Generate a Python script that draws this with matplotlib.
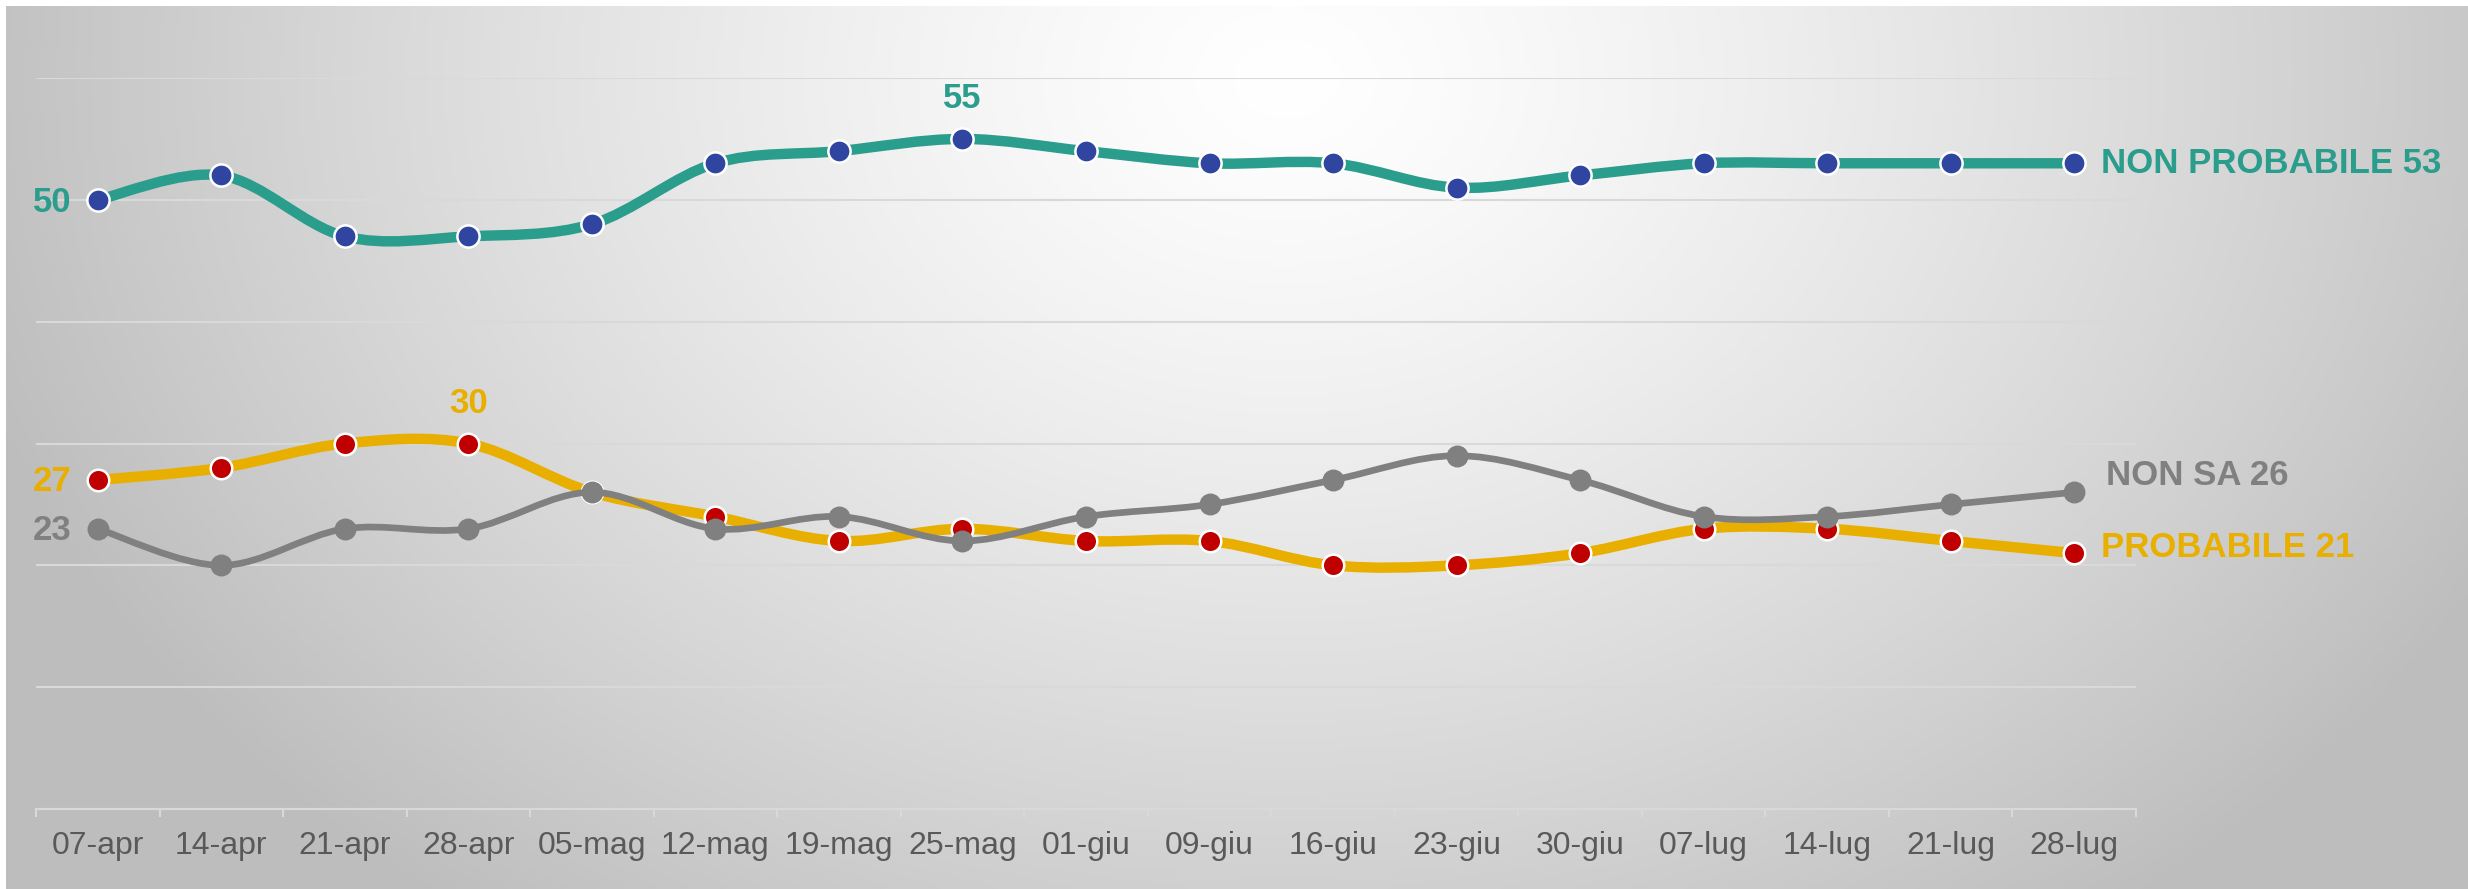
import numpy as np
import matplotlib
matplotlib.use("Agg")
import matplotlib.pyplot as plt
from matplotlib.path import Path
from matplotlib.patches import PathPatch

plt.rcParams['font.family'] = ['Liberation Sans', 'DejaVu Sans']

# --- data ---
weeks = ["07-apr", "14-apr", "21-apr", "28-apr", "05-mag", "12-mag", "19-mag",
         "25-mag", "01-giu", "09-giu", "16-giu", "23-giu", "30-giu", "07-lug",
         "14-lug", "21-lug", "28-lug"]
non_probabile = [50, 52, 47, 47, 48, 53, 54, 55, 54, 53, 53, 51, 52, 53, 53, 53, 53]
probabile = [27, 28, 30, 30, 26, 24, 22, 23, 22, 22, 20, 20, 21, 23, 23, 22, 21]
non_sa = [23, 20, 23, 23, 26, 23, 24, 22, 24, 25, 27, 29, 27, 24, 24, 25, 26]

GREEN = "#2A9D8C"
BLUE = "#2F45A0"
YELLOW = "#E8AF00"
RED = "#C00000"
GRAY = "#808080"
GRID = "#D9D9D9"

W, H = 2468, 889


def smooth_path(xs, ys):
    """Bezier path like Excel's smoothed line (Catmull-Rom style control points)."""
    pts = np.column_stack([xs, ys]).astype(float)
    n = len(pts)
    verts = [pts[0]]
    codes = [Path.MOVETO]
    for i in range(n - 1):
        p0 = pts[i - 1] if i > 0 else pts[i]
        p1 = pts[i]
        p2 = pts[i + 1]
        p3 = pts[i + 2] if i + 2 < n else pts[i + 1]
        c1 = p1 + (p2 - p0) / 6.0
        c2 = p2 - (p3 - p1) / 6.0
        verts += [c1, c2, p2]
        codes += [Path.CURVE4] * 3
    return Path(verts, codes)


fig = plt.figure(figsize=(W / 100, H / 100), dpi=100)
fig.patch.set_facecolor("white")

# background radial gradient (white strip of 6px on left/top like the reference)
bg = fig.add_axes([6 / W, 0, 1 - 6 / W, 1 - 6 / H])
gx, gy = np.meshgrid(np.linspace(0, 1, 600), np.linspace(0, 1, 250))
d = np.sqrt(((gx - 0.52) / 0.56) ** 2 + ((gy - 0.08) / 1.2) ** 2)
shade = 255 - 66 * np.clip(d, 0, 1) ** 1.3
bg.imshow(np.dstack([shade] * 3).astype(np.uint8), aspect="auto",
          extent=[0, 1, 0, 1], origin="upper", interpolation="bilinear")
bg.axis("off")

ax = fig.add_axes([36 / W, 1 - 809 / H, (2136 - 36) / W, (809 - 78) / H])
ax.set_facecolor("none")
x = np.arange(len(weeks))

# lines
series = [
    (non_probabile, GREEN, 7.5, BLUE, "white", 16, 3),
    (probabile, YELLOW, 7.5, RED, "white", 15.5, 4),
    (non_sa, GRAY, 4.8, GRAY, GRAY, 14, 5),
]
for vals, lc, lw, mfc, mec, ms, z in series:
    ax.add_patch(PathPatch(smooth_path(x, vals), fill=False, edgecolor=lc,
                           lw=lw, capstyle="round", zorder=z))
    ax.plot(x, vals, "o", ls="none", mfc=mfc, mec=mec, mew=1.8, ms=ms, zorder=z + 0.5)

ax.set_xlim(-0.5, len(weeks) - 0.5)
ax.set_ylim(0, 60)
ax.set_yticks(np.arange(0, 61, 10))
ax.tick_params(axis="y", left=False, labelleft=False)
ax.grid(axis="y", color=GRID, lw=1.5, zorder=0)
ax.set_axisbelow(True)

ax.set_xticks(x)
ax.set_xticklabels(weeks, fontsize=23, color="#595959")
ax.set_xticks(np.arange(-0.5, len(weeks), 1), minor=True)
ax.tick_params(axis="x", which="major", length=0, pad=16)
ax.tick_params(axis="x", which="minor", length=6, width=1.5, color=GRID)
for side in ["top", "right", "left"]:
    ax.spines[side].set_visible(False)
ax.spines["bottom"].set_color(GRID)
ax.spines["bottom"].set_linewidth(1.5)

lbl = dict(fontsize=25, fontweight="bold", textcoords="offset points")

# left-side start labels
ax.annotate(str(non_probabile[0]), (x[0], non_probabile[0]), xytext=(-19, -2),
            ha="right", va="center", color=GREEN, **lbl)
ax.annotate(str(probabile[0]), (x[0], probabile[0]), xytext=(-19, -1),
            ha="right", va="center", color=YELLOW, **lbl)
ax.annotate(str(non_sa[0]), (x[0], non_sa[0]), xytext=(-19, -1),
            ha="right", va="center", color=GRAY, **lbl)

# peak labels
ipk = int(np.argmax(non_probabile))
ax.annotate(str(non_probabile[ipk]), (x[ipk], non_probabile[ipk]), xytext=(0, 29),
            ha="center", va="center", color=GREEN, **lbl)
ipk = int(np.argmax(probabile))
ax.annotate(str(probabile[ipk]), (x[ipk + 1], probabile[ipk + 1]), xytext=(0, 29),
            ha="center", va="center", color=YELLOW, **lbl)

# right-side end labels
big = dict(fontsize=25, fontweight="bold", textcoords="offset points",
           ha="left", va="center", annotation_clip=False)
ax.annotate(f"NON PROBABILE {non_probabile[-1]}", (x[-1], non_probabile[-1]),
            xytext=(19.5, 0), color=GREEN, **big)
ax.annotate(f"NON SA {non_sa[-1]}", (x[-1], non_sa[-1]),
            xytext=(23, 12), color=GRAY, **big)
ax.annotate(f"PROBABILE {probabile[-1]}", (x[-1], probabile[-1]),
            xytext=(19.5, 4), color=YELLOW, **big)

fig.savefig("out.png", dpi=100)
